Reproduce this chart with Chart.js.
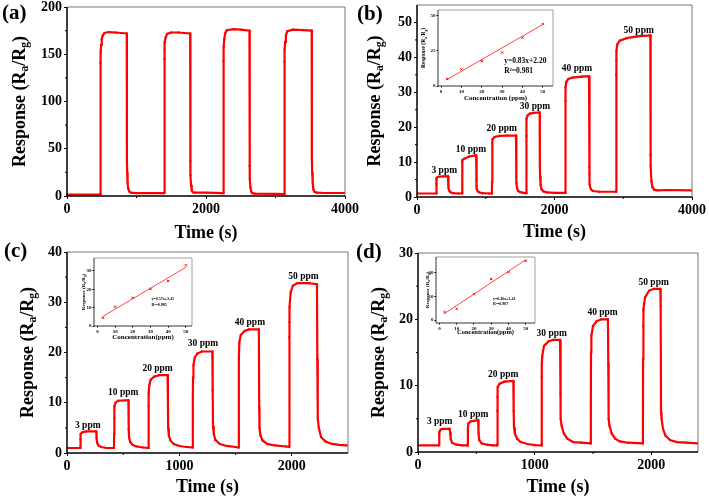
<!DOCTYPE html>
<html><head><meta charset="utf-8">
<script src="https://cdn.jsdelivr.net/npm/chart.js@4.4.1/dist/chart.umd.min.js"></script>
<style>
html,body{margin:0;padding:0;background:#fff}
#wrap{position:relative;width:709px;height:498px;overflow:hidden;background:#fff}
canvas{position:absolute;left:0;top:0}
</style></head><body><div id="wrap">
<canvas id="cA" width="709" height="498"></canvas>
<canvas id="cB" width="709" height="498"></canvas>
<canvas id="cC" width="709" height="498"></canvas>
<canvas id="cD" width="709" height="498"></canvas>
<canvas id="iB" width="709" height="498"></canvas>
<canvas id="iC" width="709" height="498"></canvas>
<canvas id="iD" width="709" height="498"></canvas>
</div>
<script>
// ---------- DATA: [time (s), response Ra/Rg] ----------
const curveA = [[0,1.5],[470,1.5],[479,1.6],[481,141],[486,152],[492,160],[500,166],[515,170],[540,172.5],[600,173.5],[700,173],[860,172],[862,38],[866,25],[872,14],[880,8],[895,5],[920,3.5],[1000,3],[1390,3],
[1397,3.2],[1399,145],[1404,155],[1410,163],[1420,168],[1440,171.5],[1500,173],[1600,173],[1772,172],[1774,37],[1778,22],[1785,12],[1795,6],[1810,4],[1840,3.5],[2000,3.5],[2240,3],
[2249,3],[2251,143],[2256,158],[2263,166],[2275,172],[2300,175.5],[2400,176.5],[2500,176],[2625,175],[2627,32],[2632,18],[2640,9],[2650,5],[2665,3],[2700,2.5],[3000,2.2],[3120,2],
[3126,2],[3128,142],[3133,155],[3140,163],[3150,170],[3170,174.5],[3250,176],[3400,175.5],[3521,175],[3523,40],[3528,25],[3535,14],[3545,7],[3560,4.5],[3590,3.5],[3700,3.2],[4000,3.2]];

const curveB = [[0,1.0],[279,1.0],[281,1.2],[281,3.8],[283,5.0],[290,5.5],[310,5.8],[380,5.9],[451,6.0],[455,3.5],[460,2.5],[470,1.8],[485,1.4],[520,1.1],[600,1.0],
[653,1.0],[655,1.2],[656,10.0],[662,10.6],[690,11.0],[760,11.6],[848,11.9],[860,11.9],[863,5.0],[866,3.2],[872,2.2],[885,1.6],[910,1.3],[960,1.1],[1050,1.0],
[1089,1.0],[1091,4.3],[1092,15.3],[1100,16.5],[1130,17.2],[1200,17.5],[1300,17.6],[1440,17.6],[1443,6.0],[1447,4.0],[1455,2.6],[1470,1.8],[1500,1.4],[1550,1.2],[1588,1.1],
[1590,1.2],[1591,17.5],[1595,22.5],[1610,23.4],[1640,23.9],[1700,24.1],[1784,24.2],[1787,9.5],[1790,6.0],[1798,3.5],[1812,2.2],[1840,1.6],[1890,1.3],[2000,1.2],[2156,1.2],
[2158,1.3],[2159,27.5],[2163,31.5],[2172,33.0],[2200,33.8],[2260,34.2],[2400,34.5],[2502,34.6],[2505,8.5],[2508,6.5],[2515,3.5],[2530,2.2],[2560,1.7],[2650,1.5],[2893,1.5],
[2895,1.6],[2896,35.0],[2900,39.0],[2905,42.0],[2915,43.8],[2950,44.8],[3050,45.5],[3200,46.0],[3394,46.3],[3397,12.0],[3400,9.0],[3410,4.5],[3425,2.8],[3450,2.1],[3500,1.9],[3650,2.0],[4000,1.9]];

const curveC = [[0,1.0],[117,1.0],[119,1.3],[120,2.7],[123,3.8],[135,4.1],[170,4.3],[260,4.3],[263,3.0],[268,2.0],[280,1.5],[305,1.2],[350,1.0],[416,1.0],
[418,1.1],[419,3.8],[420,7.0],[423,9.3],[432,10.0],[455,10.4],[546,10.5],[549,4.7],[553,3.0],[562,2.2],[585,1.6],[620,1.3],[680,1.1],[723,1.0],
[725,1.1],[726,9.3],[728,12.0],[733,13.6],[745,14.6],[775,15.2],[820,15.5],[895,15.5],[898,10.2],[900,5.0],[906,3.5],[920,2.5],[950,1.8],[1000,1.4],[1060,1.2],[1117,1.1],
[1119,1.2],[1120,11.0],[1121,15.0],[1125,17.5],[1137,19.0],[1160,19.8],[1200,20.2],[1293,20.2],[1296,12.5],[1299,5.3],[1306,3.8],[1320,2.6],[1360,1.8],[1420,1.4],[1500,1.2],[1526,1.1],
[1528,1.2],[1529,3.5],[1530,18.5],[1533,22.0],[1546,23.5],[1580,24.3],[1620,24.6],[1707,24.6],[1710,9.0],[1713,5.0],[1721,3.5],[1740,2.5],[1780,1.8],[1850,1.5],[1950,1.3],[1974,1.2],
[1976,1.3],[1977,23.0],[1979,26.0],[1982,29.0],[1990,32.0],[2010,33.3],[2050,33.8],[2150,33.8],[2224,33.6],[2227,18.7],[2231,7.0],[2240,5.0],[2260,3.2],[2300,2.3],[2360,1.8],[2420,1.6],[2490,1.5]];

const curveD = [[0,1.0],[178,1.0],[180,1.1],[181,2.5],[184,3.0],[195,3.4],[220,3.5],[272,3.5],[275,3.0],[280,2.0],[292,1.4],[330,1.1],[380,1.0],[425,1.0],
[427,1.1],[428,3.5],[432,4.3],[450,4.6],[480,4.7],[516,4.8],[519,2.8],[525,1.8],[545,1.3],[590,1.1],[640,1.0],[677,1.0],
[679,1.1],[680,6.2],[681,8.3],[685,9.8],[700,10.3],[740,10.6],[817,10.7],[820,6.2],[823,3.7],[831,2.7],[850,2.0],[880,1.5],[940,1.2],[1000,1.05],[1058,1.0],
[1060,1.1],[1061,11.3],[1062,13.2],[1065,14.5],[1080,16.0],[1120,16.7],[1160,16.9],[1218,16.9],[1221,8.8],[1224,5.0],[1231,4.0],[1250,2.8],[1280,2.0],[1330,1.5],[1400,1.4],[1479,1.3],
[1481,1.4],[1482,6.7],[1483,15.0],[1486,17.5],[1500,19.0],[1530,19.7],[1570,20.0],[1628,20.0],[1631,13.3],[1634,5.0],[1641,4.0],[1660,2.8],[1690,2.0],[1730,1.6],[1800,1.4],[1926,1.3],
[1928,1.4],[1929,14.0],[1930,19.0],[1934,21.5],[1946,23.3],[1980,24.3],[2020,24.6],[2077,24.6],[2080,22.0],[2083,6.0],[2088,5.0],[2100,3.5],[2120,2.5],[2160,1.8],[2220,1.5],[2300,1.4],[2400,1.3]];

// tick values
const xTicksA = [0, 2000, 4000], yTicksA = [0, 50, 100, 150, 200];
const xTicksB = [0, 2000, 4000], yTicksB = [0, 10, 20, 30, 40, 50];
const xTicksC = [0, 1000, 2000], yTicksC = [0, 10, 20, 30, 40];
const xTicksD = [0, 1000, 2000], yTicksD = [0, 10, 20, 30];
const xTicksInset = [0, 10, 20, 30, 40, 50];
const yTicksIB = [0, 25, 50], yTicksIC = [0, 10, 20, 30], yTicksID = [0, 10, 20];

// concentration labels and where they sit (time, response)
const concLabels = ['3 ppm','10 ppm','20 ppm','30 ppm','40 ppm','50 ppm'];
const labelTimeB = [397, 785, 1232, 1716, 2327, 3224];
const labelRespB = [7.5, 13.7, 19.5, 25.9, 36.7, 47.8];
const labelTimeC = [185, 500, 806, 1210, 1627, 2104];
const labelRespC = [5.4, 12.0, 16.9, 21.7, 26.0, 35.1];
const labelTimeD = [186, 473, 731, 1146, 1582, 2020];
const labelRespD = [4.6, 5.6, 11.7, 17.8, 21.0, 25.5];

// insets: response vs concentration
const conc = [3, 10, 20, 30, 40, 50];
const insetB = [5.0, 11.8, 17.7, 23.8, 34.4, 43.9];
const insetC = [4.5, 10.5, 15.3, 20.2, 24.5, 33.0];
const insetD = [3.4, 4.8, 10.9, 17.3, 20.1, 24.9];
const fitEndsB = [4.7, 43.7];
const fitEndsC = [5.2, 31.9];
const fitEndsD = [2.8, 25.3];
const fitTextB = ['y=0.83x+2.20', 'R²=0.981'];
const fitTextC = ['y=0.57x+3.45', 'R²=0.985'];
const fitTextD = ['y=0.46x+1.41', 'R²=0.987'];

// ---------- DRAWING ----------
const FONT = '"Liberation Serif", "Times New Roman", serif';
const RESP = [['Response (R',0],['a',1],['/R',0],['g',1],[')',0]];

function drawRot(ctx, x, y, size, parts) {
  ctx.save(); ctx.translate(x, y); ctx.rotate(-Math.PI/2);
  const big = 'bold ' + size + 'px ' + FONT, small = 'bold ' + (size*0.65) + 'px ' + FONT;
  let w = 0;
  parts.forEach(p => { ctx.font = p[1] ? small : big; w += ctx.measureText(p[0]).width; });
  let cx = -w/2; ctx.textBaseline = 'middle'; ctx.textAlign = 'left'; ctx.fillStyle = '#000';
  parts.forEach(p => { ctx.font = p[1] ? small : big; ctx.fillText(p[0], cx, p[1] ? size*0.3 : 0); cx += ctx.measureText(p[0]).width; });
  ctx.restore();
}

function makeDeco(c) {
  return {
    id: 'deco',
    beforeDraw(chart) {
      if (!c.fill) return;
      const a = chart.chartArea, ctx = chart.ctx;
      ctx.save(); ctx.fillStyle = '#fff'; ctx.fillRect(a.left, a.top, a.right - a.left, a.bottom - a.top); ctx.restore();
    },
    afterDraw(chart) {
      const ctx = chart.ctx, a = chart.chartArea, sx = chart.scales.x, sy = chart.scales.y;
      ctx.save();
      ctx.lineWidth = c.frameW; ctx.strokeStyle = c.frameColor;
      ctx.beginPath(); ctx.moveTo(a.left, a.top); ctx.lineTo(a.right, a.top); ctx.lineTo(a.right, a.bottom); ctx.stroke();
      ctx.lineWidth = c.axisW; ctx.strokeStyle = '#000';
      ctx.beginPath(); ctx.moveTo(a.left, a.top); ctx.lineTo(a.left, a.bottom); ctx.lineTo(a.right, a.bottom); ctx.stroke();
      if (c.minor) {
        ctx.lineWidth = 1;
        for (let v = c.x.step/2; v < sx.max; v += c.x.step) {
          const px = sx.getPixelForValue(v); ctx.beginPath(); ctx.moveTo(px, a.bottom); ctx.lineTo(px, a.bottom + c.minor); ctx.stroke();
        }
        for (let v = c.y.step/2; v < sy.max; v += c.y.step) {
          const py = sy.getPixelForValue(v); ctx.beginPath(); ctx.moveTo(a.left, py); ctx.lineTo(a.left - c.minor, py); ctx.stroke();
        }
      }
      drawRot(ctx, c.ytX, (a.top + a.bottom)/2, c.ytSize, RESP);
      ctx.fillStyle = '#000';
      if (c.letter) {
        ctx.font = 'bold 21px ' + FONT; ctx.textAlign = 'left'; ctx.textBaseline = 'middle';
        ctx.fillText(c.letter[0], c.letter[1], c.letter[2]);
      }
      if (c.lt) {
        ctx.font = 'bold 9.5px ' + FONT; ctx.textAlign = 'center'; ctx.textBaseline = 'middle';
        concLabels.forEach((t, i) => ctx.fillText(t, sx.getPixelForValue(c.lt[i]), sy.getPixelForValue(c.lv[i])));
      }
      if (c.fitText) {
        ctx.font = 'bold ' + c.fitSize + 'px ' + FONT; ctx.textAlign = 'left'; ctx.textBaseline = 'middle';
        ctx.fillText(c.fitText[0], sx.getPixelForValue(c.fitAt[0]), sy.getPixelForValue(c.fitAt[1]));
        ctx.fillText(c.fitText[1], sx.getPixelForValue(c.fitAt[0]), sy.getPixelForValue(c.fitAt[2]));
      }
      ctx.restore();
    }
  };
}

function build(id, c, datasets) {
  const ax = (o, isX) => ({
    type: 'linear', min: o.min, max: o.max,
    afterBuildTicks(s) { s.ticks = o.ticks.map(v => ({ value: v })); },
    afterFit(s) {
      if (isX) { s.height = c.xh; s.paddingLeft = 0; s.paddingRight = 0; }
      else { s.width = c.yw; s.paddingTop = 0; s.paddingBottom = 0; }
    },
    grid: { display: true, drawOnChartArea: false, drawTicks: true, tickLength: c.tickLen, tickWidth: 1, color: '#000' },
    border: { display: false },
    ticks: { autoSkip: false, maxRotation: 0, padding: c.tickPad, color: '#000',
      font: { family: FONT, weight: 'bold', size: c.tickSize }, callback: v => String(v) },
    title: isX ? { display: true, text: c.xTitle, color: '#000', padding: 0, font: { family: FONT, weight: 'bold', size: c.xTitleSize } } : { display: false }
  });
  return new Chart(document.getElementById(id), {
    type: 'scatter',
    data: { datasets },
    options: {
      responsive: false, animation: false, events: [],
      layout: { padding: { left: c.box.l - c.yw, top: c.box.t, right: 709 - c.box.r, bottom: 498 - c.box.b - c.xh } },
      plugins: { legend: { display: false }, tooltip: { enabled: false } },
      scales: { x: ax(c.x, true), y: ax(c.y, false) }
    },
    plugins: [makeDeco(c)]
  });
}

function mainSet(curve) {
  return [{ data: curve.map(p => ({ x: p[0], y: p[1] })), showLine: true, borderColor: '#ff0000', borderWidth: 2.2,
    pointRadius: 1.4, pointStyle: 'rect', pointBackgroundColor: '#ff0000', pointBorderColor: '#ff0000', pointBorderWidth: 0, tension: 0 }];
}
function insetSet(vals, ends) {
  return [
    { data: [{ x: conc[0], y: ends[0] }, { x: conc[conc.length-1], y: ends[1] }], showLine: true, borderColor: '#ff3030', borderWidth: 0.9, pointRadius: 0 },
    { data: conc.map((x, i) => ({ x, y: vals[i] })), showLine: false, pointStyle: 'crossRot', pointRadius: 1.6, pointBorderColor: '#ff0000', pointBorderWidth: 1 }
  ];
}

const mainBase = { yw: 50, tickLen: 3, tickPad: 2, tickSize: 14, xTitle: 'Time (s)', xTitleSize: 18, frameW: 1, frameColor: '#777', axisW: 1.5, minor: 2, ytSize: 18 };
const insetBase = { yw: 10, tickLen: 1.5, tickPad: 1, tickSize: 5, frameW: 0.8, frameColor: '#888', axisW: 0.8, minor: 0, fill: true };

build('cA', Object.assign({}, mainBase, { box: { l: 67, r: 345, t: 7, b: 196 }, xh: 48, x: { min: 0, max: 4000, step: 2000, ticks: xTicksA }, y: { min: 0, max: 200, step: 50, ticks: yTicksA }, ytX: 20, letter: ['(a)', 2, 14] }), mainSet(curveA));
build('cB', Object.assign({}, mainBase, { box: { l: 417, r: 692, t: 5, b: 197 }, xh: 46, x: { min: 0, max: 4000, step: 2000, ticks: xTicksB }, y: { min: 0, max: 55, step: 10, ticks: yTicksB }, ytX: 375, letter: ['(b)', 357, 15], lt: labelTimeB, lv: labelRespB }), mainSet(curveB));
build('cC', Object.assign({}, mainBase, { box: { l: 67, r: 348, t: 252, b: 453 }, xh: 45, x: { min: 0, max: 2500, step: 1000, ticks: xTicksC }, y: { min: 0, max: 40, step: 10, ticks: yTicksC }, ytX: 28, letter: ['(c)', 4, 252], lt: labelTimeC, lv: labelRespC }), mainSet(curveC));
build('cD', Object.assign({}, mainBase, { box: { l: 418, r: 698, t: 253, b: 452 }, xh: 46, x: { min: 0, max: 2400, step: 1000, ticks: xTicksD }, y: { min: 0, max: 30, step: 10, ticks: yTicksD }, ytX: 379, letter: ['(d)', 356, 253], lt: labelTimeD, lv: labelRespD }), mainSet(curveD));

build('iB', Object.assign({}, insetBase, { box: { l: 438, r: 553, t: 10, b: 86 }, xh: 16, x: { min: -1.5, max: 55, ticks: xTicksInset }, y: { min: 0, max: 54, ticks: yTicksIB }, xTitle: 'Concentration (ppm)', xTitleSize: 7, ytX: 424, ytSize: 5.5, fitText: fitTextB, fitSize: 7.5, fitAt: [31, 17.8, 10.7] }), insetSet(insetB, fitEndsB));
build('iC', Object.assign({}, insetBase, { box: { l: 94, r: 192, t: 258, b: 326 }, xh: 15, x: { min: -2, max: 53.5, ticks: xTicksInset }, y: { min: 0, max: 37, ticks: yTicksIC }, xTitle: 'Concentration(ppm)', xTitleSize: 7, ytX: 84, ytSize: 5, fitText: fitTextC, fitSize: 4, fitAt: [30.5, 14.7, 11.4] }), insetSet(insetC, fitEndsC));
build('iD', Object.assign({}, insetBase, { box: { l: 436, r: 535, t: 257, b: 323 }, xh: 13, x: { min: -2, max: 55.4, ticks: xTicksInset }, y: { min: -1.2, max: 26.5, ticks: yTicksID }, xTitle: 'Concentration(ppm)', xTitleSize: 6.5, ytX: 428, ytSize: 5, fitText: fitTextD, fitSize: 4, fitAt: [31, 8.9, 6.8] }), insetSet(insetD, fitEndsD));
</script>
</body></html>
